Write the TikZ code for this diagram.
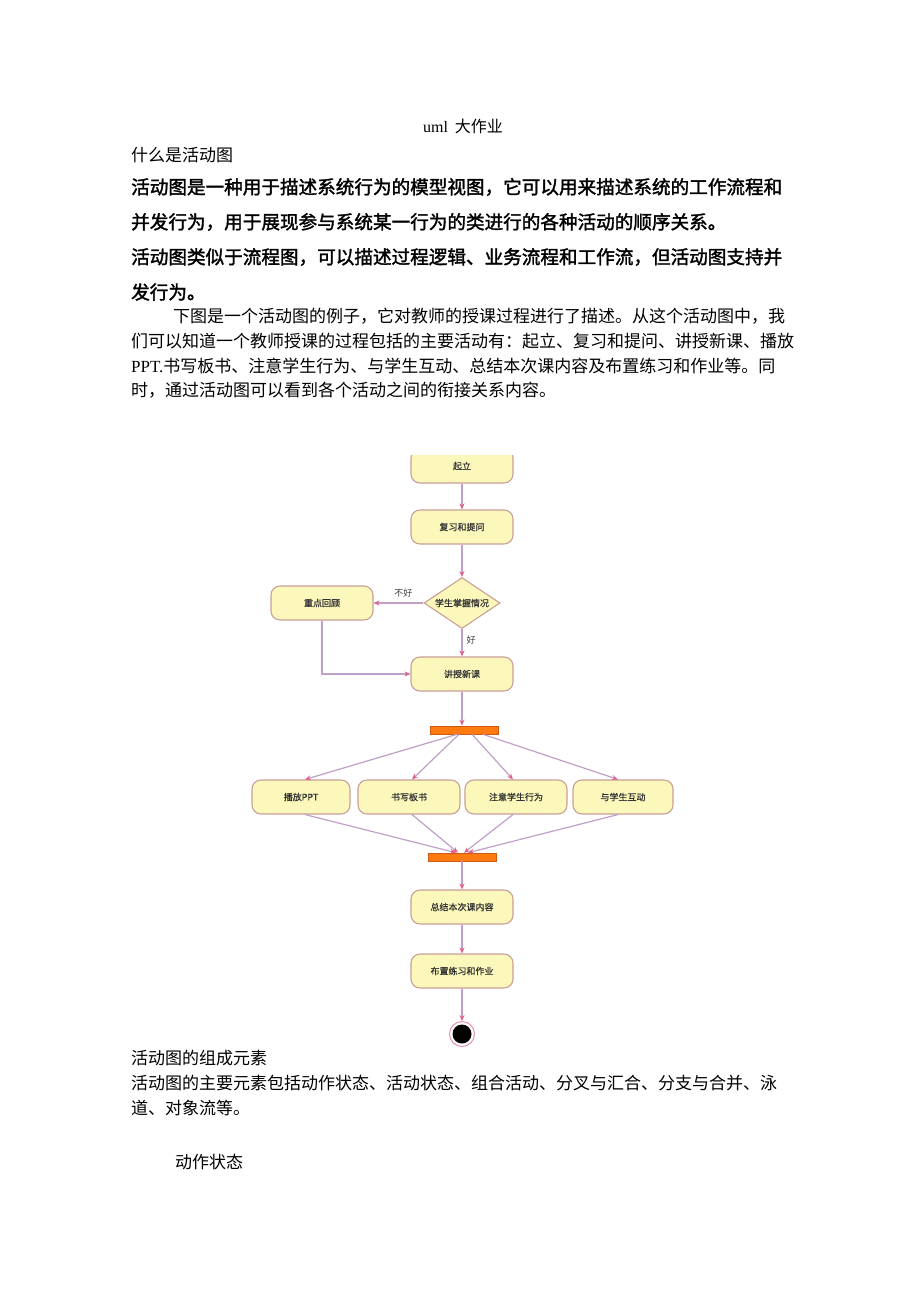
\documentclass[tikz,border=0pt]{standalone}
\usepackage{fontspec}
\setmainfont{Liberation Serif}
\newfontfamily\cjk{Noto Sans CJK SC}
\newfontfamily\cjkb[FakeBold=1.8]{Noto Sans CJK SC}
\newfontfamily\cjkm[FakeBold=0.6]{Noto Sans CJK SC}
\usetikzlibrary{shapes.geometric,arrows.meta,calc}
\definecolor{boxfill}{HTML}{FCF8BC}
\definecolor{boxline}{HTML}{C8A096}
\definecolor{flowc}{HTML}{C0A0C8}
\definecolor{tipc}{HTML}{E0608C}
\definecolor{barfill}{HTML}{FF7A10}
\definecolor{barline}{HTML}{D05A10}
\tikzset{
  act/.style={draw=boxline, fill=boxfill, rounded corners=9pt, minimum width=102pt, minimum height=34pt, inner sep=0pt, line width=1.1pt, font=\cjkm\fontsize{9}{9}\selectfont, text=black!80},
  dec/.style={diamond, aspect=1.5, draw=boxline, fill=boxfill, minimum width=76pt, minimum height=51pt, inner sep=0pt, line width=1.1pt, font=\cjkm\fontsize{9}{9}\selectfont, text=black!80},
  syncbar/.style={draw=barline, fill=barfill, minimum width=68pt, minimum height=8pt, inner sep=0pt, line width=0.6pt},
  flow/.style={draw=flowc, line width=1.2pt, -{Stealth[length=6pt,width=5pt,color=tipc]}},
  body/.style={anchor=west, inner sep=0pt, font=\cjk\fontsize{17}{17}\selectfont},
  bold/.style={anchor=west, inner sep=0pt, font=\cjkb\fontsize{18.6}{18.6}\selectfont},
  lbl/.style={inner sep=0pt, font=\cjk\fontsize{9}{9}\selectfont, text=black!75},
}
\begin{document}
\begin{tikzpicture}[x=1pt,y=-1pt]
\useasboundingbox (0,0) rectangle (920,1301);
\fill[white] (0,0) rectangle (920,1301);
% texts
\node[inner sep=0pt, font=\fontsize{16}{16}\selectfont] (title) at (463,126) {uml\, {\cjk 大作业}};
\node[body] (h1) at (131,155) {什么是活动图};
\node[bold] (b1) at (131,187) {活动图是一种用于描述系统行为的模型视图，它可以用来描述系统的工作流程和};
\node[bold] (b2) at (131,222) {并发行为，用于展现参与系统某一行为的类进行的各种活动的顺序关系。};
\node[bold] (b3) at (131,257) {活动图类似于流程图，可以描述过程逻辑、业务流程和工作流，但活动图支持并};
\node[bold] (b4) at (131,292) {发行为。};
\node[body] (p1) at (173,316) {下图是一个活动图的例子，它对教师的授课过程进行了描述。从这个活动图中，我};
\node[body] (p2) at (131,341) {们可以知道一个教师授课的过程包括的主要活动有：起立、复习和提问、讲授新课、播放};
\node[body] (p3) at (131,366) {{\rmfamily PPT.}书写板书、注意学生行为、与学生互动、总结本次课内容及布置练习和作业等。同};
\node[body] (p4) at (131,390) {时，通过活动图可以看到各个活动之间的衔接关系内容。};
\node[body] (h2) at (131,1058) {活动图的组成元素};
\node[body] (q1) at (131,1083) {活动图的主要元素包括动作状态、活动状态、组合活动、分叉与汇合、分支与合并、泳};
\node[body] (q2) at (131,1108) {道、对象流等。};
\node[body] (h3) at (175,1162) {动作状态};
% diagram
\begin{scope}
\clip (380,455) rectangle (545,500);
\node[act] (s1) at (462,466) {起立};
\end{scope}
\node[act] (s2) at (462,527) {复习和提问};
\node[dec] (d1) at (462,603) {学生掌握情况};
\node[act] (r1) at (322,603) {重点回顾};
\node[act] (s3) at (462,674) {讲授新课};
\node[syncbar] (fork) at (464,730) {};
\node[act, minimum width=98pt] (a1) at (301,797) {播放PPT};
\node[act, minimum width=102pt] (a2) at (409,797) {书写板书};
\node[act, minimum width=102pt] (a3) at (516,797) {注意学生行为};
\node[act, minimum width=100pt] (a4) at (623,797) {与学生互动};
\node[syncbar] (join) at (462,857) {};
\node[act] (s4) at (462,907) {总结本次课内容};
\node[act] (s5) at (462,971) {布置练习和作业};
\node[circle, draw=tipc!70, fill=white, line width=1pt, minimum size=25pt, inner sep=0pt] (end) at (462,1034) {};
\fill[black] (end.center) circle (9.5pt);
% edges
\draw[flow] (s1.south) -- (s2.north);
\draw[flow] (s2.south) -- (d1.north);
\draw[flow] (d1.west) -- node[lbl, above=5pt, pos=0.4] {不好} (r1.east);
\draw[flow] (d1.south) -- node[lbl, right=4pt, pos=0.4] {好} (s3.north);
\draw[flow] (r1.south) |- (s3.west);
\draw[flow] (s3.south) -- (s3.south |- fork.north);
\draw[flow] ($(fork.south)+(-7,0)$) -- ($(a1.north)+(4,0)$);
\draw[flow] ($(fork.south)+(-5,0)$) -- ($(a2.north)+(3,0)$);
\draw[flow] ($(fork.south)+(8,0)$) -- ($(a3.north)+(-3,0)$);
\draw[flow] ($(fork.south)+(19,0)$) -- ($(a4.north)+(-5,0)$);
\draw[flow] ($(a1.south)+(4,0)$) -- ($(join.north)+(-6,0)$);
\draw[flow] ($(a2.south)+(3,0)$) -- ($(join.north)+(-4,0)$);
\draw[flow] ($(a3.south)+(-3,0)$) -- ($(join.north)+(2,0)$);
\draw[flow] ($(a4.south)+(-5,0)$) -- ($(join.north)+(6,0)$);
\draw[flow] (join.south) -- (s4.north);
\draw[flow] (s4.south) -- (s5.north);
\draw[flow] (s5.south) -- (end.north);
\end{tikzpicture}
\end{document}
